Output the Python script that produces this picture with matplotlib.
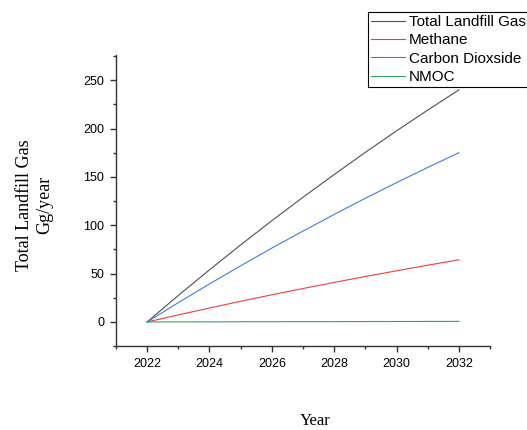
import matplotlib.pyplot as plt
from matplotlib.ticker import MultipleLocator

# data
years = [2022, 2023, 2024, 2025, 2026, 2027, 2028, 2029, 2030, 2031, 2032]
total_gas = [0, 27.4, 53.9, 79.7, 104.7, 129.0, 152.5, 175.4, 197.6, 219.1, 240.0]
methane = [0, 7.3, 14.4, 21.4, 28.1, 34.6, 40.9, 47.0, 52.9, 58.7, 64.3]
co2 = [0, 20.0, 39.3, 58.1, 76.4, 94.0, 111.2, 127.9, 144.1, 159.8, 175.0]
nmoc = [0, 0.07, 0.13, 0.2, 0.26, 0.32, 0.38, 0.44, 0.49, 0.55, 0.6]

plt.rcParams['font.family'] = 'Liberation Sans'

fig = plt.figure(figsize=(5.27, 4.30), dpi=100)
ax = fig.add_axes([0.220, 0.195, 0.710, 0.677])

ax.plot(years, total_gas, color="#505050", linewidth=0.8, label="Total Landfill Gas")
ax.plot(years, methane, color="#f03c3c", linewidth=0.8, label="Methane")
ax.plot(years, co2, color="#3c7cf0", linewidth=0.8, label="Carbon Dioxside")
ax.plot(years, nmoc, color="#30a860", linewidth=0.8, label="NMOC")

ax.set_xlim(2021, 2033)
ax.set_ylim(-25, 276)
ax.xaxis.set_major_locator(MultipleLocator(2))
ax.xaxis.set_minor_locator(MultipleLocator(1))
ax.yaxis.set_major_locator(MultipleLocator(50))
ax.yaxis.set_minor_locator(MultipleLocator(25))
ax.set_xticks(range(2022, 2033, 2))
ax.set_yticks(range(0, 251, 50))

for s in ["top", "right"]:
    ax.spines[s].set_visible(False)
for s in ["left", "bottom"]:
    ax.spines[s].set_color("#333333")
    ax.spines[s].set_linewidth(1.0)

ax.tick_params(which="major", direction="out", length=4.5, width=1.0, color="#333333", labelsize=9, pad=4)
ax.tick_params(which="minor", direction="out", length=2.5, width=1.0, color="#333333")

leg = fig.legend(loc="upper left", bbox_to_anchor=(0.698, 0.972), fontsize=11,
                 frameon=True, fancybox=False, edgecolor="black", framealpha=1,
                 handlelength=2.2, handletextpad=0.3, labelspacing=0.28,
                 borderpad=0.2, borderaxespad=0)
leg.get_frame().set_linewidth(0.8)

fig.text(0.066, 0.523, "Total Landfill Gas\nGg/year", rotation=90, ha="center", va="center",
         family="Liberation Serif", fontsize=13, multialignment="center")
fig.text(0.598, 0.021, "Year", ha="center", va="center", family="Liberation Serif", fontsize=12)

fig.savefig("out.png", dpi=100)
